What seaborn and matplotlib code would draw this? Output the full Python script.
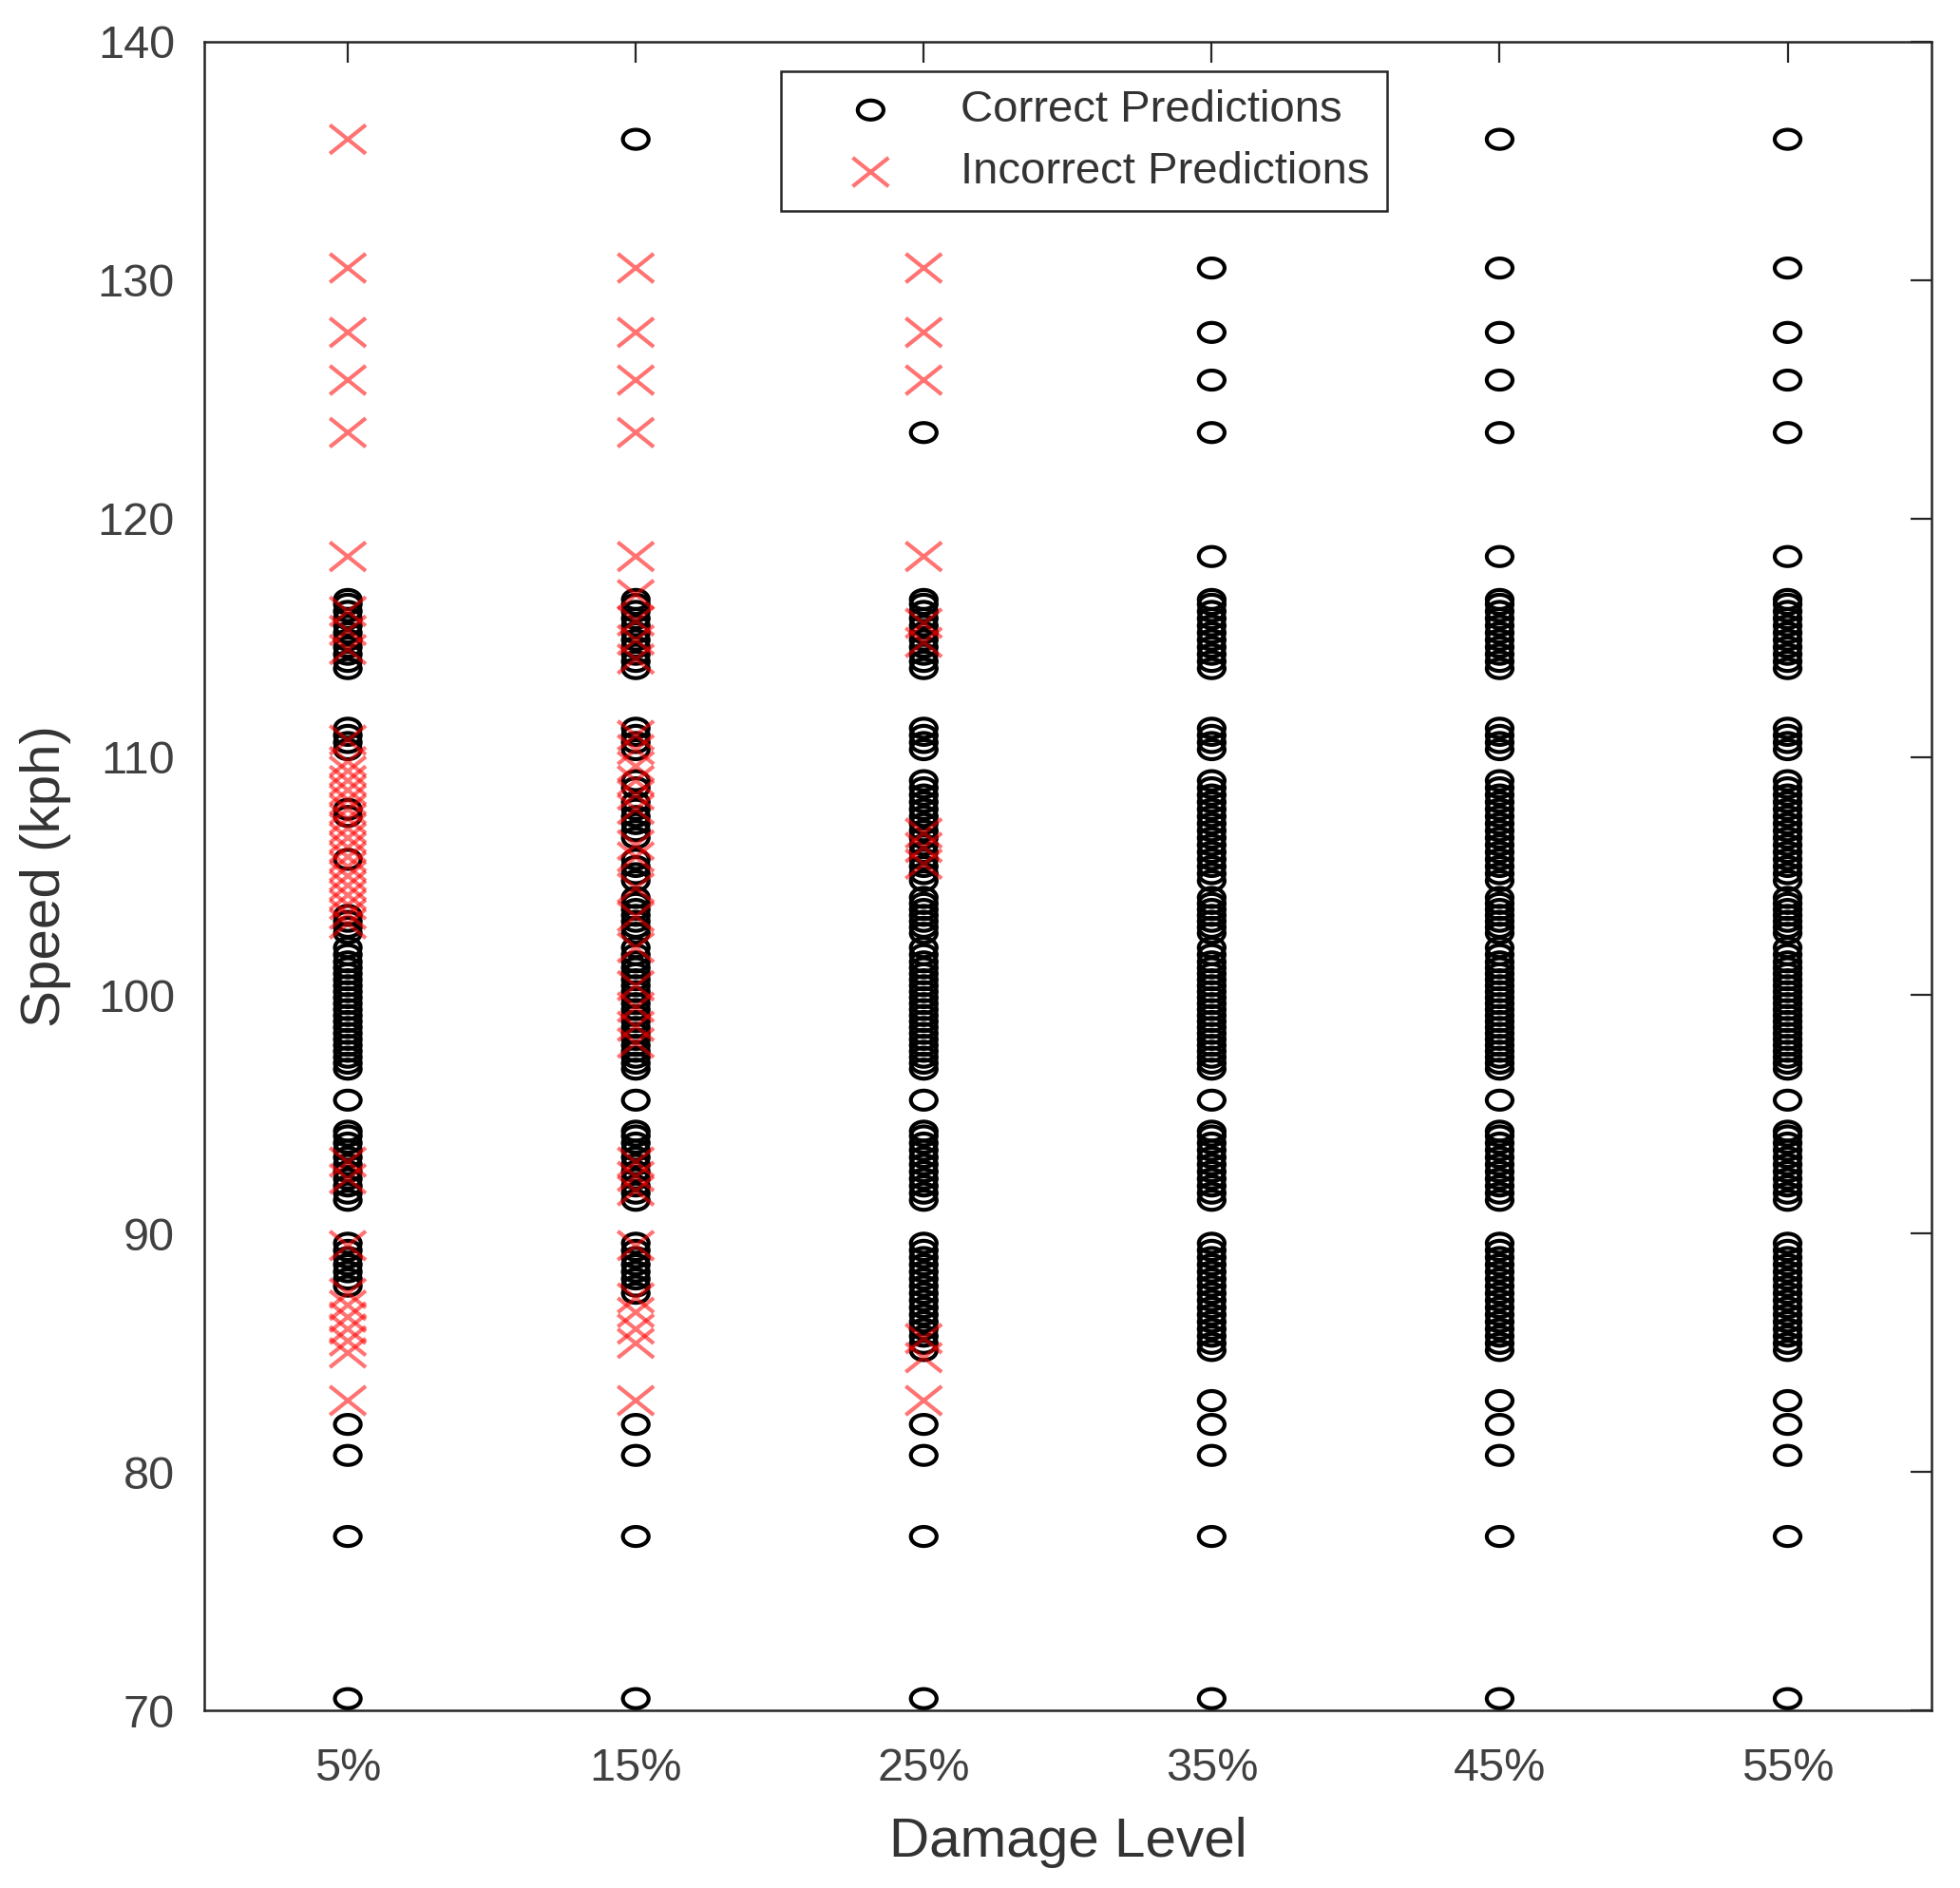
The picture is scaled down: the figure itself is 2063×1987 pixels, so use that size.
import matplotlib
matplotlib.use("Agg")
import matplotlib.pyplot as plt
from matplotlib.path import Path
import pandas as pd
import seaborn as sns

# damage levels on the x axis
levels = ["5%", "15%", "25%", "35%", "45%", "55%"]

# test speeds (kph), the same set at every damage level
speeds = [
    70.5, 77.3, 80.7, 82.0, 83.0,
    85.1, 85.4, 85.7, 86.0, 86.3, 86.6, 86.9, 87.2, 87.5, 87.8, 88.1, 88.4,
    88.7, 89.0, 89.3, 89.6,
    91.4, 91.7, 92.0, 92.3, 92.6, 92.9, 93.2, 93.5, 93.8, 94.1, 94.3,
    95.6,
    96.9, 97.15, 97.4, 97.65, 97.9, 98.15, 98.4, 98.65, 98.9, 99.15, 99.4,
    99.65, 99.9, 100.15, 100.4, 100.65, 100.9, 101.15, 101.4, 101.7, 102.0,
    102.6, 102.85, 103.1, 103.35, 103.6, 103.85, 104.1,
    104.8, 105.1, 105.4, 105.7, 106.0, 106.3, 106.6, 106.9, 107.2, 107.5,
    107.8, 108.1, 108.4, 108.7, 109.0,
    110.3, 110.6, 110.9, 111.2,
    113.7, 114.0, 114.3, 114.6, 114.9, 115.2, 115.5, 115.8, 116.1, 116.4,
    116.6,
    118.4, 123.6, 125.8, 127.8, 130.5, 135.9,
]

# incorrect predictions per damage level
wrong_5 = [135.9, 130.5, 127.8, 125.8, 123.6, 118.4, 116.1, 115.3, 114.5,
           110.7, 109.8, 109.4, 109.0, 108.6, 108.2, 107.8, 107.4, 107.0,
           106.6, 106.2, 105.8, 105.4, 105.0, 104.6, 104.2, 103.8, 103.4,
           103.0, 93.0, 92.3, 89.5, 87.5, 87.0, 86.5, 86.0, 85.5, 85.0, 83.0]
wrong_15 = [130.5, 127.8, 125.8, 123.6, 118.4, 116.8, 115.7, 114.9, 114.1,
            110.9, 110.3, 109.6, 109.0, 108.4, 107.8, 106.3, 105.8, 104.5,
            103.3, 102.0, 100.4, 99.5, 98.7, 98.0, 93.0, 92.4, 91.8, 89.5,
            87.3, 86.7, 86.0, 85.4, 83.0]
wrong_25 = [130.5, 127.8, 125.8, 118.4, 115.6, 114.8, 106.8, 106.2, 105.5,
            85.6, 84.8, 83.0]

# speeds with no correct prediction at that level
no_correct_5 = [135.9, 130.5, 127.8, 125.8, 123.6, 118.4, 104.8, 105.1,
                105.4, 106.0, 106.3, 106.6, 106.9, 107.2, 108.1, 108.4, 108.7,
                109.0, 103.6, 103.85, 104.1, 85.1, 85.4, 85.7, 86.0, 86.3,
                86.6, 86.9, 87.2, 87.5, 83.0]
no_correct_15 = [130.5, 127.8, 125.8, 123.6, 118.4, 106.0, 106.3, 108.4,
                 85.1, 85.4, 85.7, 86.0, 86.3, 86.6, 86.9, 87.2, 83.0]
no_correct_25 = [130.5, 127.8, 125.8, 118.4, 83.0]

wrong = {"5%": wrong_5, "15%": wrong_15, "25%": wrong_25}
no_correct = {"5%": no_correct_5, "15%": no_correct_15, "25%": no_correct_25}

rows = []
for lv in levels:
    for v in speeds:
        if v not in no_correct.get(lv, []):
            rows.append((lv, v, "Correct Predictions"))
    for v in wrong.get(lv, []):
        rows.append((lv, v, "Incorrect Predictions"))
df = pd.DataFrame(rows, columns=["level", "speed", "result"])
ok = df[df.result == "Correct Predictions"]
bad = df[df.result == "Incorrect Predictions"]

sns.set_style("white")
plt.rcParams["font.family"] = ["Liberation Sans", "DejaVu Sans"]

# squashed markers like in the original picture
circ = Path.unit_circle()
oval = Path(circ.vertices * [1.0, 0.74], circ.codes)
cross = Path([(-1, -0.8), (1, 0.8), (-1, 0.8), (1, -0.8)],
             [Path.MOVETO, Path.LINETO, Path.MOVETO, Path.LINETO])

fig = plt.figure(figsize=(20.63, 19.87), dpi=100)
ax = fig.add_axes([0.104, 0.094, 0.8815, 0.884])

sns.scatterplot(data=ok, x="level", y="speed", ax=ax, marker=oval, s=380,
                color="black", facecolors="none", edgecolor="black",
                linewidths=3.0, label="Correct Predictions", zorder=3)
sns.scatterplot(data=bad, x="level", y="speed", ax=ax, marker=cross, s=740,
                color="red", facecolors="none", edgecolor="red", alpha=0.55,
                linewidths=3.0, label="Incorrect Predictions", zorder=4)

ax.set_xlim(-0.5, 5.5)
ax.set_ylim(70, 140)
ax.set_yticks(range(70, 141, 10))
ax.set_xlabel("Damage Level", fontsize=42, color="#333333", labelpad=20)
ax.set_ylabel("Speed (kph)", fontsize=42, color="#333333", labelpad=20)
ax.tick_params(direction="in", length=16, width=1.6, top=True, right=True,
               labelsize=35, labelcolor="#404040", color="#262626")
ax.tick_params(axis="x", pad=28)
ax.tick_params(axis="y", pad=22)
for sp in ax.spines.values():
    sp.set_visible(True)
    sp.set_color("#262626")
    sp.set_linewidth(1.8)

leg = ax.legend(loc="upper left", bbox_to_anchor=(0.334, 0.982),
                borderaxespad=0, fontsize=34, fancybox=False, framealpha=1,
                edgecolor="#262626", handlelength=3.2, handletextpad=0.4,
                borderpad=0.4, labelspacing=0.45, labelcolor="#333333")
leg.get_frame().set_linewidth(1.8)
leg.set_zorder(10)

fig.savefig("out.png", dpi=100)
